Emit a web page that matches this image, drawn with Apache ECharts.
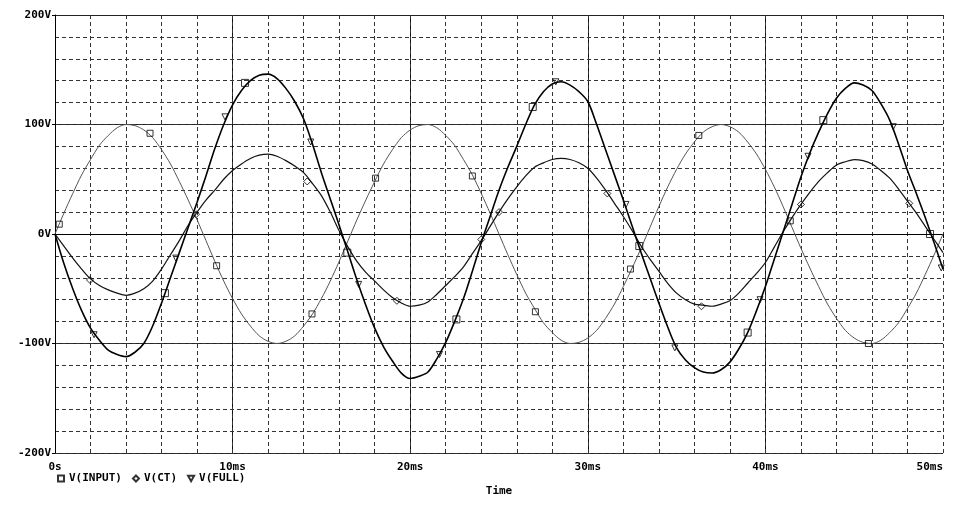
<!DOCTYPE html>
<html>
<head>
<meta charset="utf-8">
<title>V(INPUT) V(CT) V(FULL)</title>
<script src="https://cdn.jsdelivr.net/npm/echarts@6/dist/echarts.min.js"></script>
<style>
html, body { margin: 0; padding: 0; background: #fff; }
#chart { width: 967px; height: 510px; }
</style>
</head>
<body>
<div id="chart"></div>
<script>
// time axis, ms (every 0.5 ms)
var timeMs = [0,0.5,1,1.5,2,2.5,3,3.5,4,4.5,5,5.5,6,6.5,7,7.5,8,8.5,9,9.5,
              10,10.5,11,11.5,12,12.5,13,13.5,14,14.5,15,15.5,16,16.5,17,17.5,18,18.5,19,19.5,
              20,20.5,21,21.5,22,22.5,23,23.5,24,24.5,25,25.5,26,26.5,27,27.5,28,28.5,29,29.5,
              30,30.5,31,31.5,32,32.5,33,33.5,34,34.5,35,35.5,36,36.5,37,37.5,38,38.5,39,39.5,
              40,40.5,41,41.5,42,42.5,43,43.5,44,44.5,45,45.5,46,46.5,47,47.5,48,48.5,49,49.5,50];

// volts
var vInput = [0,19,37,54,68,81,90,97,100,99,95,88,77,64,48,31,13,-6,-25,-43,
              -59,-73,-84,-93,-98,-100,-98,-93,-84,-73,-59,-43,-25,-6,13,31,48,64,77,88,
              95,99,100,97,90,81,68,54,37,19,0,-19,-37,-54,-68,-81,-90,-97,-100,-99,
              -95,-88,-77,-64,-48,-31,-13,6,25,43,59,73,84,93,98,100,98,93,84,73,
              59,43,25,6,-13,-31,-48,-64,-77,-88,-95,-99,-100,-97,-90,-81,-68,-54,-37,-19,0];
var vCt = [0,-11,-22,-32,-41,-47,-51,-54,-56,-54,-50,-43,-32,-19,-6,8,20,31,40,50,
           58,64,69,72,73,71,67,62,56,46,35,20,3,-12,-25,-35,-43,-51,-58,-63,
           -66,-65,-62,-55,-47,-39,-30,-18,-6,7,20,32,43,53,61,65,68,69,68,65,
           60,51,40,28,16,3,-11,-23,-34,-45,-54,-60,-64,-65,-66,-64,-61,-54,-45,-36,
           -26,-12,2,15,27,38,48,56,63,66,68,67,64,58,51,41,30,19,7,-5,-17];
var vFull = [0,-27,-50,-70,-86,-97,-106,-110,-112,-108,-100,-84,-63,-40,-17,6,29,53,78,100,
             118,131,140,145,146,142,133,121,105,82,56,32,8,-17,-42,-65,-86,-103,-116,-127,
             -132,-130,-126,-114,-99,-80,-59,-34,-8,16,40,61,80,100,118,130,137,139,136,130,
             121,100,77,54,31,7,-17,-40,-63,-85,-104,-115,-122,-126,-127,-124,-117,-105,-90,-70,
             -48,-23,2,27,52,74,93,110,124,133,138,136,131,119,104,82,58,37,15,-8,-32];

// marker positions [ms, V]
var inputMarks = [[0.24,9],[5.35,92],[9.1,-29],[14.47,-73],[18.05,51],[23.5,53],[27.05,-71],
                  [32.4,-32],[36.25,90],[41.4,12],[45.8,-100]];
var fullSquareMarks = [[6.19,-54],[10.7,138],[16.46,-17],[22.6,-78],[26.9,116],[32.9,-11],
                       [39.0,-90],[43.26,104],[49.27,0]];
var ctMarks = [[1.97,-42],[7.94,18],[14.2,48],[19.25,-61],[24.0,-5],[25.0,20],[31.1,37],
               [36.4,-66],[42.0,27],[48.1,28]];
var fullMarks = [[2.2,-92],[6.8,-22],[9.57,107],[14.4,84],[17.1,-46],[21.65,-110],[28.2,139],
                 [32.15,27],[34.9,-104],[39.7,-60],[42.4,71],[47.2,98],[49.9,-31]];

function pairs(vals) {
	return timeMs.map(function (t, i) { return [t, vals[i]]; });
}

var FONT = '"DejaVu Sans Mono", monospace';
var TRI_DOWN = 'path://M0,0L10,0L5,9Z';

var hollow = { color: 'rgba(0,0,0,0)', borderColor: '#000', borderWidth: 1 };
var labelFont = { fontFamily: FONT, fontSize: 11, fontWeight: 'bold', color: '#000' };

var myChart = echarts.init(document.getElementById('chart'));

option = {
	animation: false,
	backgroundColor: '#fff',
	grid: { left: 55, right: 24, top: 15, bottom: 57, containLabel: false },
	legend: {
		left: 57,
		top: 473,
		padding: 0,
		itemWidth: 6,
		itemHeight: 6,
		itemGap: 10,
		selectedMode: false,
		data: ['V(INPUT)', 'V(CT)', 'V(FULL)'],
		textStyle: labelFont
	},
	xAxis: [
		{
			type: 'value', min: 0, max: 50, interval: 10,
			name: 'Time', nameLocation: 'middle', nameGap: 33,
			nameTextStyle: labelFont,
			axisLine: { lineStyle: { color: '#000', width: 1 } },
			axisTick: { show: true, length: 4, lineStyle: { color: '#000' } },
			axisLabel: Object.assign({
				margin: 9,
				alignMaxLabel: 'right',
				formatter: function (v) { return v === 0 ? '0s' : v + 'ms'; }
			}, labelFont),
			splitLine: { show: true, showMaxLine: false, lineStyle: { color: '#111', width: 1 } }
		},
		{
			type: 'value', min: 0, max: 50, interval: 2, position: 'bottom',
			axisLine: { show: false }, axisTick: { show: false }, axisLabel: { show: false },
			splitLine: { show: true, lineStyle: { color: '#333', width: 1, type: [4, 3] } }
		}
	],
	yAxis: [
		{
			type: 'value', min: -200, max: 200, interval: 100,
			axisLine: { show: true, lineStyle: { color: '#000', width: 1 } },
			axisTick: { show: true, length: 3, lineStyle: { color: '#000' } },
			axisLabel: Object.assign({
				margin: 4,
				formatter: function (v) { return v + 'V'; }
			}, labelFont),
			splitLine: { show: true, lineStyle: { color: '#222', width: 1 } }
		},
		{
			type: 'value', min: -200, max: 200, interval: 20, position: 'left',
			axisLine: { show: false }, axisTick: { show: false }, axisLabel: { show: false },
			splitLine: { show: true, showMaxLine: false, lineStyle: { color: '#333', width: 1, type: [4, 3] } }
		}
	],
	series: [
		{
			name: 'input', type: 'line', smooth: 0.3, showSymbol: false, z: 3,
			data: pairs(vInput), lineStyle: { color: '#555', width: 1 }
		},
		{
			name: 'ct', type: 'line', smooth: 0.3, showSymbol: false, z: 4,
			data: pairs(vCt), lineStyle: { color: '#111', width: 1.2 }
		},
		{
			name: 'full', type: 'line', smooth: 0.3, showSymbol: false, z: 5,
			data: pairs(vFull), lineStyle: { color: '#000', width: 1.6 }
		},
		{
			name: 'V(INPUT)', type: 'scatter', symbol: 'rect', symbolSize: 6, z: 6,
			data: inputMarks, itemStyle: hollow
		},
		{
			name: 'V(INPUT)', type: 'scatter', symbol: 'rect', symbolSize: 7, z: 6,
			data: fullSquareMarks, itemStyle: hollow
		},
		{
			name: 'V(CT)', type: 'scatter', symbol: 'diamond', symbolSize: 7, z: 6,
			data: ctMarks, itemStyle: hollow
		},
		{
			name: 'V(FULL)', type: 'scatter', symbol: TRI_DOWN, symbolSize: 6, z: 6,
			data: fullMarks, itemStyle: hollow
		}
	]
};

myChart.setOption(option);
</script>
</body>
</html>
